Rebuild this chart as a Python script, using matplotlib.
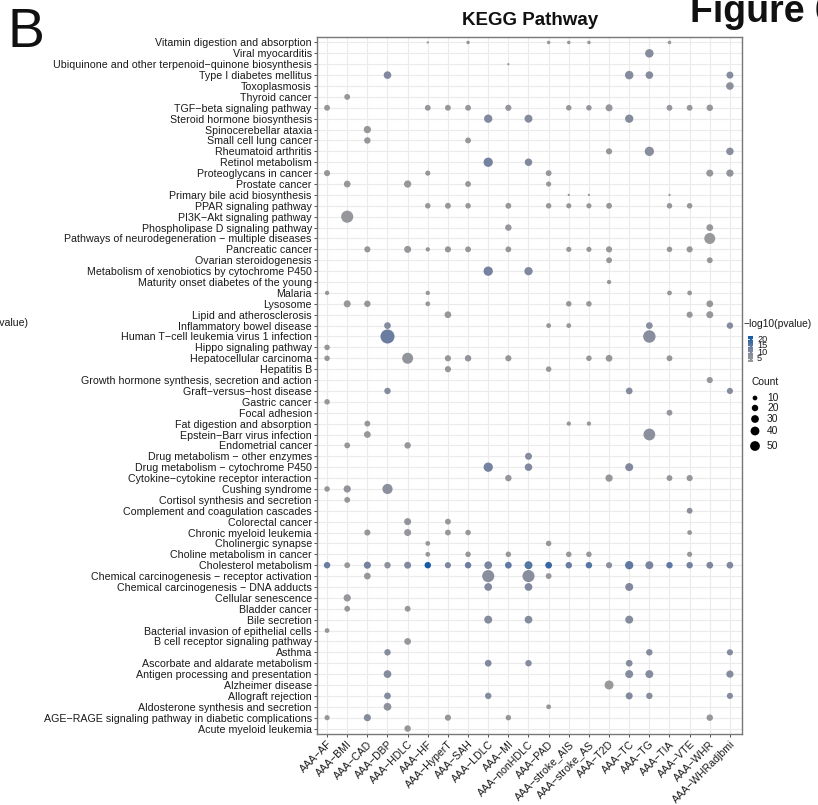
import numpy as np
import matplotlib
matplotlib.use('Agg')
import matplotlib.pyplot as plt
from matplotlib.colors import LinearSegmentedColormap, Normalize

# ---------------- data ----------------
pathways = [
    "Vitamin digestion and absorption", "Viral myocarditis",
    "Ubiquinone and other terpenoid\u2212quinone biosynthesis", "Type I diabetes mellitus",
    "Toxoplasmosis", "Thyroid cancer", "TGF\u2212beta signaling pathway",
    "Steroid hormone biosynthesis", "Spinocerebellar ataxia", "Small cell lung cancer",
    "Rheumatoid arthritis", "Retinol metabolism", "Proteoglycans in cancer",
    "Prostate cancer", "Primary bile acid biosynthesis", "PPAR signaling pathway",
    "PI3K\u2212Akt signaling pathway", "Phospholipase D signaling pathway",
    "Pathways of neurodegeneration \u2212 multiple diseases", "Pancreatic cancer",
    "Ovarian steroidogenesis", "Metabolism of xenobiotics by cytochrome P450",
    "Maturity onset diabetes of the young", "Malaria", "Lysosome",
    "Lipid and atherosclerosis", "Inflammatory bowel disease",
    "Human T\u2212cell leukemia virus 1 infection", "Hippo signaling pathway",
    "Hepatocellular carcinoma", "Hepatitis B",
    "Growth hormone synthesis, secretion and action", "Graft\u2212versus\u2212host disease",
    "Gastric cancer", "Focal adhesion", "Fat digestion and absorption",
    "Epstein\u2212Barr virus infection", "Endometrial cancer",
    "Drug metabolism \u2212 other enzymes", "Drug metabolism \u2212 cytochrome P450",
    "Cytokine\u2212cytokine receptor interaction", "Cushing syndrome",
    "Cortisol synthesis and secretion", "Complement and coagulation cascades",
    "Colorectal cancer", "Chronic myeloid leukemia", "Cholinergic synapse",
    "Choline metabolism in cancer", "Cholesterol metabolism",
    "Chemical carcinogenesis \u2212 receptor activation",
    "Chemical carcinogenesis \u2212 DNA adducts", "Cellular senescence",
    "Bladder cancer", "Bile secretion", "Bacterial invasion of epithelial cells",
    "B cell receptor signaling pathway", "Asthma", "Ascorbate and aldarate metabolism",
    "Antigen processing and presentation", "Alzheimer disease", "Allograft rejection",
    "Aldosterone synthesis and secretion",
    "AGE\u2212RAGE signaling pathway in diabetic complications", "Acute myeloid leukemia",
]

traits = ["AAA\u2212AF", "AAA\u2212BMI", "AAA\u2212CAD", "AAA\u2212DBP", "AAA\u2212HDLC",
          "AAA\u2212HF", "AAA\u2212HyperT", "AAA\u2212SAH", "AAA\u2212LDLC", "AAA\u2212MI",
          "AAA\u2212nonHDLC", "AAA\u2212PAD", "AAA\u2212stroke_AIS", "AAA\u2212stroke_AS",
          "AAA\u2212T2D", "AAA\u2212TC", "AAA\u2212TG", "AAA\u2212TIA", "AAA\u2212VTE",
          "AAA\u2212WHR", "AAA\u2212WHRadjbmi"]

# per pathway (same order as above): trait indices, gene counts, -log10(pvalue)
hit_traits = [
    [5, 7, 11, 12, 13, 17], [16], [9], [3, 15, 16, 20], [20], [1],
    [0, 5, 6, 7, 9, 12, 13, 14, 17, 18, 19], [8, 10, 15], [2], [2, 7],
    [14, 16, 20], [8, 10], [0, 5, 11, 19, 20], [1, 4, 7, 11], [12, 13, 17],
    [5, 6, 7, 9, 11, 12, 13, 14, 17, 18], [1], [9, 19], [19],
    [2, 4, 5, 6, 7, 9, 12, 13, 14, 17, 18], [14, 19], [8, 10], [14],
    [0, 5, 17, 18], [1, 2, 5, 12, 13, 19], [6, 18, 19], [3, 11, 12, 16, 20],
    [3, 16], [0], [0, 4, 6, 7, 9, 13, 14, 17], [6, 11], [19], [3, 15, 20],
    [0], [17], [2, 12, 13], [2, 16], [1, 4], [10], [8, 10, 15], [9, 14, 17, 18],
    [0, 1, 3], [1], [18], [4, 6], [2, 4, 6, 7, 18], [5, 11], [5, 7, 9, 12, 13, 18],
    list(range(21)), [2, 8, 10, 11], [8, 10, 15], [1], [1, 4], [8, 10, 15], [0],
    [4], [3, 16, 20], [8, 10, 15], [3, 15, 16, 20], [14], [3, 8, 15, 16, 20],
    [3, 11], [0, 2, 6, 9, 19], [4],
]
hit_counts = [
    [2, 5, 5, 5, 5, 5], [37], [2], [29, 37, 29, 24], [29], [16],
    [16, 16, 16, 16, 18, 14, 14, 24, 16, 16, 20], [35, 32, 35], [26], [20, 16],
    [18, 45, 28], [45, 28], [18, 12, 16, 24, 26], [22, 26, 16, 12], [2, 2, 2],
    [14, 16, 14, 16, 14, 12, 12, 16, 14, 14], [80], [20, 22], [65],
    [18, 24, 8, 18, 16, 16, 12, 12, 18, 14, 18], [16, 16], [45, 35], [8],
    [8, 8, 10, 10], [24, 20, 10, 14, 14, 22], [22, 18, 24], [22, 10, 10, 22, 20],
    [110, 85], [14], [14, 65, 18, 20, 18, 14, 22, 16], [18, 14], [18], [20, 22, 18],
    [14], [16], [16, 8, 8], [22, 75], [16, 20], [24], [45, 28, 32], [20, 26, 16, 18],
    [14, 26, 55], [16], [16], [24, 16], [18, 24, 16, 14, 10], [10, 14],
    [10, 14, 14, 14, 14, 12],
    [20, 16, 25, 20, 24, 20, 18, 20, 30, 22, 32, 22, 20, 20, 18, 35, 32, 20, 20, 22, 22],
    [22, 80, 80, 16], [30, 30, 32], [26], [16, 16], [32, 30, 32], [10],
    [22], [20, 20, 18], [22, 20, 22], [30, 32, 32, 26], [42], [22, 20, 24, 20, 18],
    [30, 10], [12, 25, 18, 14, 20], [20],
]
hit_logp = [
    [4, 4, 4, 4, 4, 4], [9], [4], [10, 9, 9, 9], [7], [4],
    [4, 4, 4, 4, 4, 4, 4, 4, 4, 4, 4], [10, 9, 9], [4], [4, 4],
    [4, 8, 8], [13, 10], [4, 4, 4, 4, 5], [4, 4, 4, 4], [4, 4, 4],
    [4, 4, 4, 4, 4, 4, 4, 4, 4, 4], [4], [4, 4], [3],
    [4, 4, 4, 4, 4, 4, 4, 4, 4, 4, 4], [4, 4], [13, 10], [4],
    [4, 4, 4, 4], [4, 4, 4, 4, 4, 4], [4, 4, 4], [9, 4, 4, 8, 9],
    [14, 8], [4], [4, 5, 4, 5, 4, 4, 4, 4], [4, 4], [4], [9, 9, 9],
    [4], [4], [4, 4, 4], [4, 7], [4, 4], [9], [13, 10, 10], [4, 4, 4, 4],
    [4, 5, 7], [4], [7], [5, 4], [4, 4, 4, 4, 4], [4, 4], [4, 4, 4, 4, 4, 4],
    [14, 4, 13, 6, 10, 22, 11, 14, 12, 15, 16, 19, 14, 16, 7, 15, 12, 15, 13, 11, 10],
    [4, 8, 8, 4], [10, 10, 10], [4], [4, 4], [9, 9, 9], [4],
    [4], [9, 9, 9], [10, 9, 9], [9, 9, 9, 9], [3], [9, 9, 10, 8, 9],
    [6, 4], [4, 9, 4, 4, 4], [4],
]

count_breaks = [10, 20, 30, 40, 50]
logp_breaks = [20, 15, 10, 5]

# ---------------- figure ----------------
W, H, DPI = 818, 805, 100
fig = plt.figure(figsize=(W / DPI, H / DPI), dpi=DPI)
fig.patch.set_facecolor('white')

TICK_FONT = ['Liberation Sans', 'DejaVu Sans']

L, R, T, B = 317, 742, 37, 734
ax = fig.add_axes([L / W, 1 - B / H, (R - L) / W, (B - T) / H])

cmap = LinearSegmentedColormap.from_list('gb', ['#9a9a9a', '#7a84a0', '#1158a8'])
norm = Normalize(vmin=2.5, vmax=22.5)


def diam_px(c):
    c = np.asarray(c, dtype=float)
    return 1.0 + 1.25 * np.sqrt(np.clip(c - 1, 0, None))


def size_pts2(c):
    return (diam_px(c) * 72.0 / DPI) ** 2


xs, ys, cs, ps = [], [], [], []
for i, (tr, cn, lp) in enumerate(zip(hit_traits, hit_counts, hit_logp)):
    for t, c, p in zip(tr, cn, lp):
        xs.append(t)
        ys.append(i)
        cs.append(c)
        ps.append(p)

ax.scatter(xs, ys, s=size_pts2(cs), c=ps, cmap=cmap, norm=norm,
           edgecolors='none', zorder=3)

n = len(pathways)
ax.set_xlim(-0.5, len(traits) - 1 + 0.6)
ax.set_ylim(n - 0.5, -0.5)
ax.set_xticks(range(len(traits)))
ax.set_yticks(range(n))
ax.set_yticklabels(pathways, fontsize=7.65, family=TICK_FONT, color='#1a1a1a')
ax.set_xticklabels(traits, fontsize=7.6, family=TICK_FONT, color='#1a1a1a',
                   rotation=45, ha='right', va='top', rotation_mode='anchor')
ax.tick_params(axis='both', length=2.2, width=0.6, color='#333333', pad=1.5)
ax.grid(True, color='#ebebeb', linewidth=0.8)
ax.set_axisbelow(True)
for sp in ax.spines.values():
    sp.set_color('#777777')
    sp.set_linewidth(1.0)

# ---------------- overlay (titles / legends) in pixel coords ----------------
ov = fig.add_axes([0, 0, 1, 1], zorder=5)
ov.set_xlim(0, W)
ov.set_ylim(H, 0)
ov.axis('off')
ov.patch.set_alpha(0)

ov.text(8, 47, 'B', fontsize=40, family=TICK_FONT, ha='left', va='baseline', color='#111111')
ov.text(530, 25, 'KEGG Pathway', fontsize=13.5, fontweight='bold', family=TICK_FONT,
        ha='center', va='baseline', color='#111111')
ov.text(690, 22, 'Figure 6', fontsize=27, fontweight='bold', family=TICK_FONT,
        ha='left', va='baseline', color='#111111', clip_on=False)
ov.text(28, 323, '\u2212log10(pvalue)', fontsize=7.6, family=TICK_FONT,
        ha='right', va='center', color='#1a1a1a')

# colour legend
ov.text(743, 324, '\u2212log10(pvalue)', fontsize=7.4, family=TICK_FONT,
        ha='left', va='center', color='#1a1a1a')
cb_x0, cb_x1, cb_top, cb_bot = 748, 753, 336, 362
vmax_bar, vmin_bar = 22.5, 2.5
grad = np.linspace(vmax_bar, vmin_bar, 100).reshape(-1, 1)
ov.imshow(grad, cmap=cmap, norm=norm, extent=(cb_x0, cb_x1, cb_bot, cb_top),
          aspect='auto', zorder=6)


def bar_y(v):
    return cb_top + (vmax_bar - v) / (vmax_bar - vmin_bar) * (cb_bot - cb_top)


for v in logp_breaks:
    yy = bar_y(v)
    ov.plot([cb_x0, cb_x0 + 1], [yy, yy], color='white', lw=0.6, zorder=7)
    ov.plot([cb_x1 - 1, cb_x1], [yy, yy], color='white', lw=0.6, zorder=7)
    ov.text(757, yy, str(v), fontsize=6.6, family=TICK_FONT, ha='left', va='center',
            color='#1a1a1a')

# size legend
ov.text(751, 382, 'Count', fontsize=7.4, family=TICK_FONT, ha='left', va='center',
        color='#1a1a1a')
leg_y = [398, 408, 419, 431, 446]
ov.scatter([755] * len(count_breaks), leg_y, s=size_pts2(count_breaks), c='black',
           edgecolors='none', zorder=7)
for c, yy in zip(count_breaks, leg_y):
    ov.text(767, yy, str(c), fontsize=7.4, family=TICK_FONT, ha='left', va='center',
            color='#1a1a1a')

fig.savefig('out.png', dpi=DPI, facecolor='white')
